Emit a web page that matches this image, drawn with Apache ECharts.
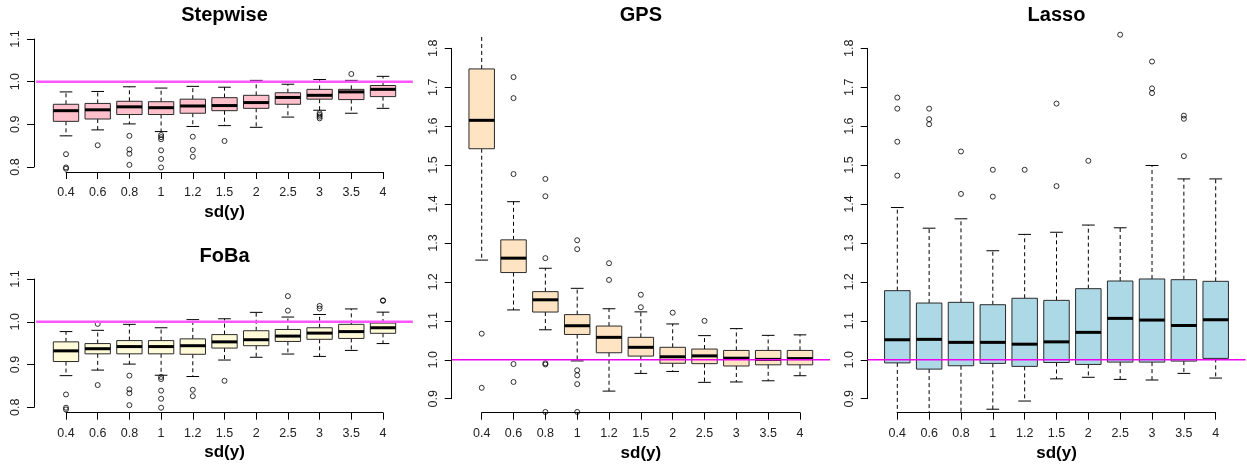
<!DOCTYPE html>
<html>
<head>
<meta charset="utf-8">
<script src="https://cdn.jsdelivr.net/npm/echarts@6/dist/echarts.min.js"></script>
<style>
  html, body { margin: 0; padding: 0; background: #fff; }
  #chart { width: 1247px; height: 467px; }
</style>
</head>
<body>
<div id="chart"></div>
<script>
// tick labels of the x axis (one box per level)
const sdLabels = ['0.4', '0.6', '0.8', '1', '1.2', '1.5', '2', '2.5', '3', '3.5', '4'];
const sdPos = sdLabels.map((s, i) => i + 1);

// Stepwise
const stepMin = [0.873, 0.887, 0.901, 0.883, 0.895, 0.897, 0.893, 0.917, 0.933, 0.926, 0.9375];
const stepQ1  = [0.907, 0.9125, 0.923, 0.923, 0.926, 0.932, 0.9375, 0.947, 0.959, 0.958, 0.965];
const stepMed = [0.932, 0.934, 0.941, 0.939, 0.943, 0.944, 0.951, 0.963, 0.968, 0.976, 0.982];
const stepQ3  = [0.947, 0.949, 0.954, 0.953, 0.959, 0.9625, 0.968, 0.974, 0.982, 0.982, 0.991];
const stepMax = [0.976, 0.977, 0.988, 0.985, 0.989, 0.987, 1.003, 0.994, 1.005, 1.003, 1.0125];
const stepOut = [[1, 0.830], [1, 0.799], [1, 0.796], [2, 0.851], [3, 0.873], [3, 0.841], [3, 0.831], [3, 0.805],
  [4, 0.875], [4, 0.870], [4, 0.865], [4, 0.839], [4, 0.819], [4, 0.799], [5, 0.871], [5, 0.840], [5, 0.824],
  [6, 0.861], [9, 0.926], [9, 0.922], [9, 0.918], [9, 0.914], [10, 1.018]];

// FoBa
const fobaMin = [0.874, 0.887, 0.901, 0.875, 0.872, 0.9105, 0.917, 0.9245, 0.919, 0.933, 0.949];
const fobaQ1  = [0.907, 0.925, 0.925, 0.925, 0.924, 0.9385, 0.944, 0.954, 0.959, 0.961, 0.973];
const fobaMed = [0.932, 0.937, 0.942, 0.942, 0.944, 0.953, 0.958, 0.9665, 0.9735, 0.977, 0.986];
const fobaQ3  = [0.953, 0.949, 0.956, 0.956, 0.960, 0.970, 0.979, 0.982, 0.986, 0.994, 0.997];
const fobaMax = [0.977, 0.980, 0.994, 0.986, 1.005, 1.007, 1.022, 1.011, 1.017, 1.030, 1.0225];
const fobaOut = [[1, 0.830], [1, 0.799], [1, 0.795], [2, 0.995], [2, 0.852], [3, 0.874], [3, 0.842], [3, 0.833],
  [3, 0.805], [4, 0.871], [4, 0.866], [4, 0.839], [4, 0.820], [4, 0.799], [5, 0.841], [5, 0.826], [6, 0.862],
  [8, 1.026], [8, 1.060], [9, 1.031], [9, 1.037], [11, 1.049], [11, 1.050]];

// GPS
const gpsMin = [1.256, 1.128, 1.077, 0.997, 0.9195, 0.965, 0.970, 0.942, 0.943, 0.946, 0.959];
const gpsQ1  = [1.542, 1.224, 1.1226, 1.065, 1.018, 1.0095, 0.991, 0.990, 0.984, 0.987, 0.987];
const gpsMed = [1.615, 1.261, 1.154, 1.0874, 1.0576, 1.032, 1.0077, 1.010, 1.004, 1.001, 1.003];
const gpsQ3  = [1.747, 1.308, 1.175, 1.116, 1.0866, 1.0576, 1.032, 1.0275, 1.024, 1.024, 1.024];
const gpsMax = [1.95, 1.406, 1.235, 1.1835, 1.131, 1.123, 1.092, 1.062, 1.080, 1.0627, 1.064];
const gpsOut = [[1, 1.067], [1, 0.928], [2, 1.726], [2, 1.672], [2, 1.477], [2, 0.989], [2, 0.943],
  [3, 1.4645], [3, 1.420], [3, 1.261], [3, 0.991], [3, 0.988], [3, 0.866], [4, 1.307], [4, 1.284],
  [4, 0.973], [4, 0.960], [4, 0.9375], [4, 0.866], [5, 1.248], [5, 1.205], [6, 1.167], [6, 1.135],
  [7, 1.121], [8, 1.100]];

// Lasso
const lassoMin = [0.85, 0.85, 0.85, 0.873, 0.894, 0.951, 0.955, 0.9496, 0.948, 0.965, 0.953];
const lassoQ1  = [0.992, 0.976, 0.9846, 0.9907, 0.983, 0.993, 0.988, 0.994, 0.994, 0.9966, 1.0035];
const lassoMed = [1.0514, 1.0524, 1.0447, 1.0447, 1.040, 1.046, 1.0704, 1.1063, 1.102, 1.088, 1.1028];
const lassoQ3  = [1.1775, 1.1457, 1.1475, 1.1414, 1.158, 1.1526, 1.1826, 1.2023, 1.2075, 1.2057, 1.2015];
const lassoMax = [1.391, 1.338, 1.362, 1.280, 1.322, 1.3275, 1.346, 1.339, 1.499, 1.4645, 1.4645];
const lassoOut = [[1, 1.6735], [1, 1.645], [1, 1.560], [1, 1.473], [2, 1.645], [2, 1.618], [2, 1.605],
  [3, 1.535], [3, 1.426], [4, 1.488], [4, 1.419], [5, 1.488], [6, 1.658], [6, 1.446], [7, 1.511],
  [8, 1.835], [9, 1.766], [9, 1.697], [9, 1.685], [10, 1.627], [10, 1.619], [10, 1.523]];

const refValue = 1.0;

const FONT = 'Liberation Sans, Arial, Helvetica, sans-serif';
const BOX_W = 0.8;
const X_LO = 0.06, X_HI = 11.94;   // plot region in x units (R adds 4%)

const panels = [
  { title: 'Stepwise', fill: '#ffc0cb', min: stepMin, q1: stepQ1, med: stepMed, q3: stepQ3, max: stepMax, out: stepOut,
    grid: { left: 66, top: 39, width: 317, height: 128 }, yMin: 0.8, yMax: 1.1, clip: [0.788, 1.112],
    yOff: 32, xOff: 5, titleY: 15, nameGap: 32, refW: 2.5, refColor: '#ff55ff' },
  { title: 'FoBa', fill: '#fffbd8', min: fobaMin, q1: fobaQ1, med: fobaMed, q3: fobaQ3, max: fobaMax, out: fobaOut,
    grid: { left: 66, top: 279, width: 317, height: 128.3 }, yMin: 0.8, yMax: 1.1, clip: [0.788, 1.112],
    yOff: 32, xOff: 5.4, titleY: 256, nameGap: 31.5, refW: 2.5, refColor: '#ff55ff' },
  { title: 'GPS', fill: '#ffe4c4', min: gpsMin, q1: gpsQ1, med: gpsMed, q3: gpsQ3, max: gpsMax, out: gpsOut,
    grid: { left: 481.7, top: 48.3, width: 318.3, height: 350.4 }, yMin: 0.9, yMax: 1.8, clip: [0.864, 1.836],
    yOff: 30, xOff: 14, titleY: 15, nameGap: 31.5, refW: 1.5, refColor: '#ee00ee' },
  { title: 'Lasso', fill: '#add8e6', min: lassoMin, q1: lassoQ1, med: lassoMed, q3: lassoQ3, max: lassoMax, out: lassoOut,
    grid: { left: 897.3, top: 48.3, width: 318.4, height: 350.4 }, yMin: 0.9, yMax: 1.8, clip: [0.864, 1.836],
    yOff: 29.6, xOff: 14, titleY: 15, nameGap: 31.5, refW: 1.5, refColor: '#ee00ee' }
];

function boxRenderer(p) {
  const lo = p.clip[0], hi = p.clip[1];
  const clamp = v => Math.min(hi, Math.max(lo, v));
  return function (params, api) {
    const x = api.value(0);
    const mn = api.value(1), q1 = api.value(2), md = api.value(3), q3 = api.value(4), mx = api.value(5);
    const half = api.size([BOX_W, 0])[0] / 2;
    const capHalf = half / 2;
    const cx = api.coord([x, md])[0];
    const y = v => api.coord([x, clamp(v)])[1];
    const dash = { stroke: '#000', lineWidth: 1, lineDash: [4, 3] };
    const solid = { stroke: '#000', lineWidth: 1 };
    const kids = [
      { type: 'line', shape: { x1: cx, y1: y(q3), x2: cx, y2: y(mx) }, style: dash },
      { type: 'line', shape: { x1: cx, y1: y(q1), x2: cx, y2: y(mn) }, style: dash }
    ];
    if (mx <= hi) kids.push({ type: 'line', shape: { x1: cx - capHalf, y1: y(mx), x2: cx + capHalf, y2: y(mx) }, style: solid });
    if (mn >= lo) kids.push({ type: 'line', shape: { x1: cx - capHalf, y1: y(mn), x2: cx + capHalf, y2: y(mn) }, style: solid });
    kids.push({ type: 'rect', shape: { x: cx - half, y: y(q3), width: half * 2, height: y(q1) - y(q3) },
      style: { fill: p.fill, stroke: '#2a2a2a', lineWidth: 1 } });
    kids.push({ type: 'line', shape: { x1: cx - half, y1: y(md), x2: cx + half, y2: y(md) },
      style: { stroke: '#000', lineWidth: 3 } });
    return { type: 'group', children: kids };
  };
}

// horizontal reference line across the whole plot region
function refRenderer(p) {
  return function (params, api) {
    const v = api.value(0);
    const a = api.coord([X_LO, v]);
    const b = api.coord([X_HI, v]);
    return { type: 'line', shape: { x1: a[0], y1: a[1], x2: b[0], y2: b[1] },
      style: { stroke: p.refColor, lineWidth: p.refW } };
  };
}

const option = {
  animation: false,
  backgroundColor: '#fff',
  textStyle: { fontFamily: FONT },
  grid: [],
  xAxis: [],
  yAxis: [],
  series: [],
  graphic: []
};

panels.forEach((p, i) => {
  option.grid.push(Object.assign({ containLabel: false }, p.grid));
  option.xAxis.push({
    type: 'value', gridIndex: i, min: 1, max: 11, interval: 1, offset: p.xOff,
    name: 'sd(y)', nameLocation: 'middle', nameGap: p.nameGap,
    nameTextStyle: { fontFamily: FONT, fontSize: 17, fontWeight: 'bold', color: '#000' },
    axisLine: { show: true, lineStyle: { color: '#000', width: 1 } },
    axisTick: { show: true, length: 7, lineStyle: { color: '#000' } },
    axisLabel: { fontFamily: FONT, fontSize: 12.5, color: '#222', margin: 14,
      formatter: v => sdLabels[Math.round(v) - 1] || '' },
    splitLine: { show: false }
  });
  option.yAxis.push({
    type: 'value', gridIndex: i, min: p.yMin, max: p.yMax, interval: 0.1, offset: p.yOff,
    axisLine: { show: true, lineStyle: { color: '#000', width: 1 } },
    axisTick: { show: true, length: 7, lineStyle: { color: '#000' } },
    axisLabel: { fontFamily: FONT, fontSize: 12.5, color: '#222', rotate: 90, margin: 12,
      formatter: v => v.toFixed(1) },
    splitLine: { show: false }
  });
  option.series.push({
    type: 'custom', xAxisIndex: i, yAxisIndex: i, clip: false, z: 2,
    renderItem: boxRenderer(p),
    encode: { x: 0, y: [1, 2, 3, 4, 5] },
    data: sdPos.map((x, k) => [x, p.min[k], p.q1[k], p.med[k], p.q3[k], p.max[k]])
  });
  option.series.push({
    type: 'scatter', xAxisIndex: i, yAxisIndex: i, clip: false, z: 3,
    symbol: 'circle', symbolSize: 5,
    itemStyle: { color: 'rgba(0,0,0,0)', borderColor: '#000', borderWidth: 1 },
    data: p.out
  });
  option.series.push({
    type: 'custom', xAxisIndex: i, yAxisIndex: i, clip: false, z: 4, silent: true,
    renderItem: refRenderer(p),
    encode: { y: 0 },
    data: [[refValue]]
  });
  option.graphic.push({
    type: 'text', x: p.grid.left + p.grid.width / 2, y: p.titleY,
    style: { text: p.title, font: 'bold 20px ' + FONT, fill: '#000', textAlign: 'center', textVerticalAlign: 'middle' }
  });
});

const chart = echarts.init(document.getElementById('chart'), null, { renderer: 'canvas' });
chart.setOption(option);
</script>
</body>
</html>
